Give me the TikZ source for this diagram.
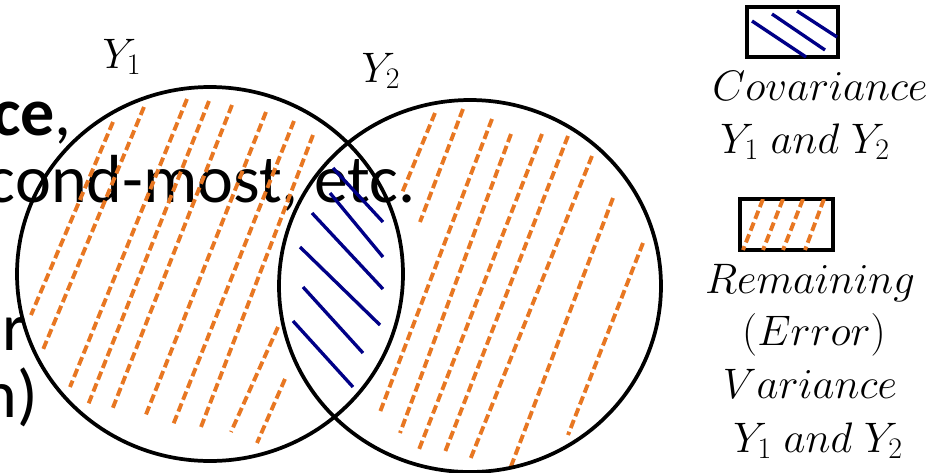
\documentclass[tikz,border=0pt]{standalone}
\usepackage{fix-cm}
\usepackage{fontspec}
\newfontfamily\slidefont{Carlito}
\usetikzlibrary{positioning}
\usepackage{amsmath}
\definecolor{errorange}{RGB}{232,119,34}
\definecolor{covblue}{RGB}{0,0,135}

\begin{document}
\begin{tikzpicture}[
    x=0.75pt, y=-0.75pt,
    setcircle/.style={draw=black, line width=2.8pt},
    errline/.style={draw=errorange, line width=2.9pt, dash pattern=on 6.5pt off 3pt},
    covline/.style={draw=covblue, line width=2.5pt},
    keybox/.style={draw=black, line width=2.5pt},
    slidetext/.style={font=\slidefont\fontsize{51}{60}\selectfont, inner sep=0pt},
    mathlabel/.style={font=\fontsize{32}{38}\selectfont, inner sep=0pt, anchor=base},
]
\path[fill=white, use as bounding box] (0,0) rectangle (947,472);

% ============ slide text behind the diagram ============
\node[slidetext, anchor=base east] (txt_ce) at (72,135) {\textbf{ce},};
\node[slidetext, anchor=base east] (txt_cond) at (416,202) {cond-most, etc.};
\node[slidetext, anchor=base east] (txt_r) at (26,350) {r};
\node[slidetext, anchor=base east] (txt_n) at (38,417) {n)};

% ============ hatching: remaining (error) variance ============
\foreach \xa/\ya/\xb/\yb in {113/122/31/315, 144/107/42/352, 187/99/70/387,
    209/101/88/405, 232/105/112/410, 266/112/145/417, 294/121/173/425,
    313/135/201/427, 278/327/231/432, 285/379/257/443}
    \draw[errline] (\xa,\ya) -- (\xb,\yb);

\foreach \xa/\ya/\xb/\yb in {435/113/402/193, 463/109/420/222, 492/119/380/412,
    511/134/400/433, 542/134/418/452, 568/136/445/452, 592/156/470/460,
    613/198/510/469, 643/243/568/435}
    \draw[errline] (\xa,\ya) -- (\xb,\yb);

% ============ hatching: covariance ============
\foreach \xa/\ya/\xb/\yb in {333/168/383/222, 330/193/383/257, 312/213/383/289,
    300/247/380/325, 303/287/363/353, 293/321/353/387}
    \draw[covline] (\xa,\ya) -- (\xb,\yb);

% ============ the two sets ============
\coordinate (c_y1) at (210,274);
\coordinate (c_y2) at (470,286);
\draw[setcircle] (c_y1) ellipse [x radius=193, y radius=187];
\draw[setcircle] (c_y2) ellipse [x radius=191, y radius=186];

\node[mathlabel] (lab_y1) at (122,68) {$Y_1$};
\node[mathlabel] (lab_y2) at (381,82) {$Y_2$};

% ============ legend ============
\draw[keybox] (747,7) rectangle (838,57);
\begin{scope}
    \clip (747,7) rectangle (838,57);
    \foreach \xa/\ya/\xb/\yb in {752/21/806/57, 772/14/825/50, 797/11/837/37}
        \draw[covline] (\xa,\ya) -- (\xb,\yb);
\end{scope}

\node[mathlabel] (key_cov) at (820,100) {$Covariance$};
\node[mathlabel] (key_cov2) at (805,153) {$Y_1\;and\;Y_2$};

\draw[keybox] (740,199) rectangle (833,250);
\begin{scope}
    \clip (740,199) rectangle (833,250);
    \foreach \xa/\xb in {763/743, 783/763, 803/783, 824/805}
        \draw[errline] (\xa,199) -- (\xb,250);
\end{scope}

\node[mathlabel] (key_rem) at (810,293) {$Remaining$};
\node[mathlabel] (key_err) at (814,345) {$(Error)$};
\node[mathlabel] (key_var) at (810,398) {$Variance$};
\node[mathlabel] (key_var2) at (818,452) {$Y_1\;and\;Y_2$};

\end{tikzpicture}
\end{document}
